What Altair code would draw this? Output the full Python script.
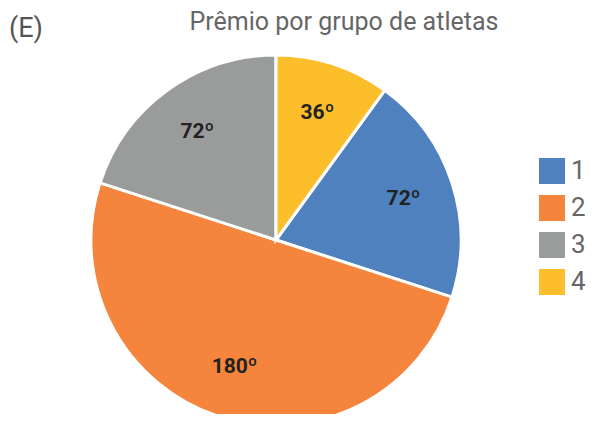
import altair as alt
import pandas as pd

grupos = ["1", "2", "3", "4"]
graus = [72, 180, 72, 36]
ordem = [2, 3, 4, 1]
rotulos = ["72º", "180º", "72º", "36º"]
cores = ["#4e81bd", "#f5843c", "#9a9c9c", "#fdbe2c"]

df = pd.DataFrame({"grupo": grupos, "graus": graus, "ordem": ordem, "rotulo": rotulos})

base = alt.Chart(df).encode(
    theta=alt.Theta("graus:Q", stack=True),
    order=alt.Order("ordem:Q"),
    x=alt.value(268),
    y=alt.value(232),
)

arcs = base.mark_arc(radius=185, stroke="white", strokeWidth=3).encode(
    color=alt.Color(
        "grupo:N",
        scale=alt.Scale(domain=grupos, range=cores),
        legend=alt.Legend(
            title=None,
            orient="none",
            legendX=531,
            legendY=150,
            symbolType="square",
            symbolSize=676,
            symbolStrokeWidth=0,
            labelFontSize=26,
            labelFont="Roboto",
            labelColor="#666666",
            rowPadding=11,
            labelOffset=6,
        ),
    )
)

texts = base.mark_text(
    radius=134, font="Roboto", fontSize=21, fontWeight="bold", color="#222222"
).encode(text="rotulo:N")

titulo = alt.Chart(pd.DataFrame({"t": ["Prêmio por grupo de atletas"]})).mark_text(
    font="Roboto", fontSize=25, color="#666666", baseline="alphabetic", align="center"
).encode(text="t:N", x=alt.value(336), y=alt.value(22))

letra = alt.Chart(pd.DataFrame({"t": ["(E)"]})).mark_text(
    font="Roboto", fontSize=27, color="#555555", baseline="alphabetic", align="left"
).encode(text="t:N", x=alt.value(1), y=alt.value(29))

chart = alt.layer(arcs, texts, titulo, letra).properties(
    width=582, height=406, autosize=alt.AutoSizeParams(type="none"), padding=0
).configure_view(stroke=None)

chart.save("out.html", embed_options={"renderer": "svg", "actions": False})
